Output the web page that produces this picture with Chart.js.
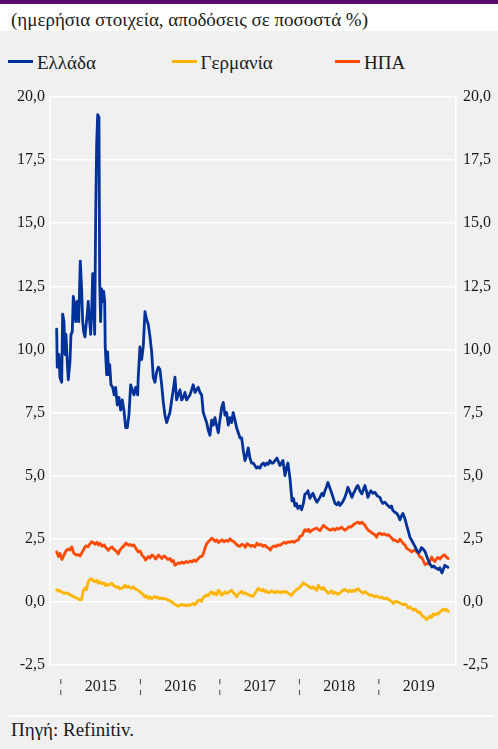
<!DOCTYPE html>
<html lang="el">
<head>
<meta charset="utf-8">
<title>Αποδόσεις 10ετών ομολόγων</title>
<script src="https://cdn.jsdelivr.net/npm/chart.js@4.4.1/dist/chart.umd.min.js"></script>
<style>
    html, body { margin: 0; padding: 0; }
    body {
        width: 498px; height: 749px; position: relative; overflow: hidden;
        background: #f0f0f0; color: #1a1a1a;
        font-family: "Liberation Serif", "Times New Roman", serif;
    }
    .topbar { position: absolute; left: 0; top: 0; width: 498px; height: 4px; background: #5b0b6f; }
    .subtitle {
        position: absolute; left: 0; top: 4px; width: 498px; height: 27px;
        background: #fff; font-size: 19px; line-height: 32px; padding-left: 11px; box-sizing: border-box;
        white-space: nowrap;
    }
    .legend { position: absolute; left: 0; top: 52px; width: 498px; height: 22px; }
    .legend-item { position: absolute; top: 0; height: 22px; display: flex; align-items: center; font-size: 19px; }
    .legend-line { width: 25px; height: 3px; margin-right: 4px; position: relative; top: -2px; }
    .chart-box { position: absolute; left: 0; top: 80px; width: 498px; height: 625px; }
    .rule { position: absolute; left: 9px; top: 715px; width: 484px; height: 2px; background: #fff; }
    .source { position: absolute; left: 11px; top: 720px; font-size: 19px; line-height: 20px; }
</style>
</head>
<body>
<div class="topbar"></div>
<div class="subtitle">(ημερήσια στοιχεία, αποδόσεις σε ποσοστά %)</div>
<div class="legend" id="legend"></div>
<div class="chart-box"><canvas id="yields"></canvas></div>
<div class="rule"></div>
<div class="source">Πηγή: Refinitiv.</div>

<script>
/* -------------------------------------------------------
   Data: 10-year government bond yields, % (x = decimal year)
------------------------------------------------------- */
const seriesNames = ["Ελλάδα", "Γερμανία", "ΗΠΑ"];
const seriesColors = ["#003299", "#ffb400", "#ff4b00"];
const yearLabels = ["2015", "2016", "2017", "2018", "2019"];

const greece = [
    [2014.946,10.8],[2014.953,9.3],[2014.975,9.8],[2014.987,8.9],[2015.009,8.7],[2015.021,11.4],
    [2015.038,11.1],[2015.050,9.8],[2015.063,10.6],[2015.079,9.5],[2015.092,8.8],[2015.113,9.5],
    [2015.126,10.6],[2015.142,10.7],[2015.155,12.1],[2015.167,11.9],[2015.185,11.1],[2015.205,11.9],
    [2015.223,11.1],[2015.243,13.5],[2015.260,12.4],[2015.273,11.1],[2015.286,10.7],[2015.302,10.5],
    [2015.314,10.9],[2015.331,11.4],[2015.343,11.9],[2015.356,11.3],[2015.374,10.6],[2015.386,11.4],
    [2015.399,13.0],[2015.411,12.4],[2015.424,10.6],[2015.437,15.4],[2015.449,18.1],[2015.462,19.3],
    [2015.478,19.2],[2015.487,12.7],[2015.499,11.1],[2015.512,12.4],[2015.525,11.9],[2015.537,12.3],
    [2015.550,11.9],[2015.557,10.1],[2015.575,9.0],[2015.587,9.9],[2015.600,9.0],[2015.613,9.4],
    [2015.629,8.6],[2015.650,8.5],[2015.670,8.2],[2015.688,8.5],[2015.708,7.8],[2015.730,8.1],
    [2015.751,7.6],[2015.771,8.0],[2015.792,7.6],[2015.814,6.9],[2015.834,6.9],[2015.855,7.4],
    [2015.877,8.6],[2015.897,8.4],[2015.918,8.2],[2015.940,8.5],[2015.965,8.2],[2015.972,8.9],
    [2015.994,10.1],[2016.015,9.6],[2016.035,10.1],[2016.057,11.5],[2016.076,11.2],[2016.098,11.0],
    [2016.120,10.5],[2016.141,9.9],[2016.161,8.9],[2016.182,8.7],[2016.203,9.1],[2016.224,9.3],
    [2016.245,9.2],[2016.267,8.6],[2016.288,7.9],[2016.308,7.4],[2016.330,7.1],[2016.350,7.3],
    [2016.371,7.5],[2016.393,8.0],[2016.413,8.4],[2016.434,8.9],[2016.455,8.0],[2016.476,8.2],
    [2016.497,8.4],[2016.518,8.0],[2016.538,8.1],[2016.560,8.3],[2016.580,8.0],[2016.601,8.1],
    [2016.623,8.2],[2016.644,8.4],[2016.664,8.6],[2016.686,8.3],[2016.707,8.4],[2016.727,8.5],
    [2016.748,8.3],[2016.770,8.2],[2016.790,7.5],[2016.812,7.3],[2016.833,7.1],[2016.853,6.8],
    [2016.874,6.6],[2016.896,7.2],[2016.916,7.0],[2016.937,7.3],[2016.958,7.0],[2016.979,6.7],
    [2017.000,7.2],[2017.022,7.7],[2017.042,7.9],[2017.063,7.4],[2017.084,7.5],[2017.105,7.0],
    [2017.126,7.3],[2017.147,7.1],[2017.167,7.5],[2017.189,7.2],[2017.210,6.9],[2017.231,6.7],
    [2017.252,6.5],[2017.273,6.5],[2017.294,6.0],[2017.315,5.6],[2017.336,5.8],[2017.356,6.1],
    [2017.377,5.7],[2017.398,5.5],[2017.419,5.5],[2017.440,5.4],[2017.459,5.3],[2017.480,5.35],
    [2017.503,5.3],[2017.525,5.45],[2017.547,5.5],[2017.567,5.4],[2017.588,5.5],[2017.608,5.45],
    [2017.629,5.6],[2017.650,5.5],[2017.671,5.5],[2017.692,5.6],[2017.717,5.7],[2017.736,5.55],
    [2017.755,5.4],[2017.774,5.5],[2017.793,5.6],[2017.818,5.0],[2017.836,5.3],[2017.855,5.5],
    [2017.881,4.9],[2017.906,4.0],[2017.925,4.1],[2017.944,3.8],[2017.962,3.9],[2017.981,3.7],
    [2018.006,3.8],[2018.028,3.65],[2018.050,3.9],[2018.069,4.27],[2018.091,4.3],[2018.107,4.4],
    [2018.132,4.1],[2018.150,4.2],[2018.170,4.3],[2018.195,4.1],[2018.220,3.95],[2018.240,4.05],
    [2018.258,4.14],[2018.283,4.3],[2018.302,4.2],[2018.321,4.4],[2018.340,4.55],[2018.359,4.73],
    [2018.384,4.5],[2018.409,4.28],[2018.428,4.1],[2018.447,3.9],[2018.472,3.85],[2018.490,3.95],
    [2018.510,3.82],[2018.530,3.9],[2018.550,4.0],[2018.572,4.14],[2018.590,4.3],[2018.610,4.54],
    [2018.635,4.35],[2018.660,4.14],[2018.680,4.3],[2018.698,4.41],[2018.718,4.55],[2018.736,4.61],
    [2018.760,4.4],[2018.786,4.28],[2018.805,4.45],[2018.824,4.61],[2018.843,4.4],[2018.862,4.14],
    [2018.880,4.3],[2018.899,4.4],[2018.925,4.3],[2018.950,4.34],[2018.980,4.2],[2019.013,4.14],
    [2019.030,4.0],[2019.050,3.9],[2019.075,3.95],[2019.101,3.85],[2019.120,3.8],[2019.138,3.74],
    [2019.158,3.8],[2019.176,3.62],[2019.200,3.55],[2019.227,3.5],[2019.245,3.4],[2019.264,3.25],
    [2019.284,3.4],[2019.302,3.5],[2019.327,3.3],[2019.352,3.0],[2019.370,2.8],[2019.390,2.56],
    [2019.410,2.45],[2019.428,2.35],[2019.453,2.2],[2019.478,2.04],[2019.497,1.95],[2019.516,2.0],
    [2019.535,2.15],[2019.554,2.1],[2019.579,2.0],[2019.598,1.85],[2019.617,1.68],[2019.642,1.5],
    [2019.667,1.38],[2019.690,1.42],[2019.710,1.35],[2019.730,1.33],[2019.750,1.28],[2019.767,1.35],
    [2019.793,1.15],[2019.812,1.3],[2019.830,1.45],[2019.850,1.4],[2019.868,1.37]
];

const germany = [
    [2014.946,0.48],[2014.969,0.42],[2014.987,0.45],[2015.013,0.38],[2015.038,0.34],[2015.063,0.36],
    [2015.092,0.33],[2015.113,0.28],[2015.138,0.25],[2015.164,0.20],[2015.195,0.16],[2015.218,0.12],
    [2015.239,0.08],[2015.260,0.10],[2015.281,0.45],[2015.302,0.55],[2015.321,0.48],[2015.340,0.78],
    [2015.356,0.86],[2015.386,0.92],[2015.409,0.82],[2015.428,0.80],[2015.453,0.86],[2015.469,0.74],
    [2015.491,0.80],[2015.516,0.72],[2015.541,0.76],[2015.560,0.64],[2015.579,0.70],[2015.604,0.66],
    [2015.638,0.74],[2015.660,0.66],[2015.679,0.62],[2015.704,0.56],[2015.721,0.60],[2015.742,0.52],
    [2015.764,0.54],[2015.784,0.58],[2015.805,0.66],[2015.826,0.58],[2015.847,0.62],[2015.868,0.56],
    [2015.889,0.54],[2015.909,0.60],[2015.931,0.52],[2015.952,0.48],[2015.972,0.46],[2015.994,0.40],
    [2016.015,0.33],[2016.035,0.30],[2016.057,0.18],[2016.078,0.24],[2016.098,0.14],[2016.120,0.20],
    [2016.141,0.12],[2016.161,0.18],[2016.182,0.22],[2016.204,0.15],[2016.224,0.18],[2016.245,0.12],
    [2016.267,0.16],[2016.287,0.12],[2016.308,0.14],[2016.330,0.10],[2016.350,0.07],[2016.371,0.04],
    [2016.393,0.00],[2016.413,-0.05],[2016.434,-0.10],[2016.455,-0.14],[2016.476,-0.18],[2016.497,-0.12],
    [2016.518,-0.10],[2016.538,-0.14],[2016.560,-0.12],[2016.581,-0.16],[2016.601,-0.12],[2016.623,-0.14],
    [2016.644,-0.10],[2016.664,-0.06],[2016.686,-0.12],[2016.707,-0.02],[2016.727,0.06],[2016.748,0.08],
    [2016.770,0.02],[2016.790,0.18],[2016.811,0.22],[2016.833,0.28],[2016.853,0.24],[2016.874,0.34],
    [2016.896,0.40],[2016.916,0.30],[2016.937,0.36],[2016.959,0.28],[2016.979,0.46],[2017.000,0.40],
    [2017.022,0.26],[2017.042,0.32],[2017.063,0.40],[2017.084,0.33],[2017.105,0.36],[2017.126,0.42],
    [2017.147,0.46],[2017.167,0.38],[2017.189,0.30],[2017.210,0.20],[2017.230,0.30],[2017.252,0.36],
    [2017.273,0.42],[2017.293,0.34],[2017.315,0.36],[2017.336,0.32],[2017.356,0.28],[2017.377,0.26],
    [2017.399,0.24],[2017.419,0.22],[2017.440,0.34],[2017.462,0.44],[2017.482,0.54],[2017.503,0.48],
    [2017.525,0.44],[2017.545,0.50],[2017.566,0.40],[2017.588,0.44],[2017.608,0.36],[2017.629,0.38],
    [2017.650,0.44],[2017.671,0.40],[2017.692,0.36],[2017.713,0.42],[2017.733,0.38],[2017.755,0.40],
    [2017.776,0.36],[2017.796,0.42],[2017.818,0.38],[2017.839,0.40],[2017.859,0.34],[2017.881,0.30],
    [2017.902,0.26],[2017.922,0.36],[2017.944,0.42],[2017.965,0.50],[2017.985,0.52],[2018.006,0.58],
    [2018.028,0.66],[2018.048,0.76],[2018.069,0.70],[2018.091,0.68],[2018.111,0.62],[2018.132,0.58],
    [2018.154,0.54],[2018.174,0.60],[2018.195,0.52],[2018.216,0.46],[2018.237,0.66],[2018.258,0.56],
    [2018.279,0.50],[2018.299,0.58],[2018.321,0.48],[2018.342,0.42],[2018.362,0.34],[2018.384,0.38],
    [2018.405,0.44],[2018.425,0.33],[2018.447,0.38],[2018.468,0.34],[2018.488,0.30],[2018.510,0.36],
    [2018.531,0.42],[2018.551,0.46],[2018.572,0.50],[2018.594,0.44],[2018.614,0.40],[2018.635,0.46],
    [2018.657,0.40],[2018.677,0.46],[2018.698,0.42],[2018.720,0.50],[2018.740,0.52],[2018.761,0.44],
    [2018.783,0.38],[2018.803,0.34],[2018.824,0.40],[2018.845,0.36],[2018.866,0.30],[2018.887,0.26],
    [2018.908,0.28],[2018.928,0.24],[2018.950,0.20],[2018.971,0.24],[2018.991,0.20],[2019.013,0.16],
    [2019.034,0.20],[2019.054,0.14],[2019.076,0.12],[2019.097,0.16],[2019.117,0.10],[2019.138,0.07],
    [2019.160,0.02],[2019.180,-0.06],[2019.201,0.00],[2019.223,0.02],[2019.243,-0.02],[2019.264,-0.04],
    [2019.286,-0.08],[2019.306,-0.12],[2019.327,-0.08],[2019.349,-0.14],[2019.369,-0.24],[2019.390,-0.20],
    [2019.412,-0.26],[2019.432,-0.32],[2019.453,-0.28],[2019.474,-0.34],[2019.495,-0.42],[2019.516,-0.40],
    [2019.537,-0.52],[2019.557,-0.58],[2019.579,-0.62],[2019.600,-0.70],[2019.620,-0.64],[2019.642,-0.56],
    [2019.663,-0.62],[2019.683,-0.48],[2019.705,-0.52],[2019.726,-0.46],[2019.746,-0.48],[2019.767,-0.40],
    [2019.789,-0.34],[2019.809,-0.28],[2019.830,-0.34],[2019.852,-0.30],[2019.872,-0.38]
];

const usa = [
    [2014.946,1.98],[2014.969,1.80],[2014.987,1.92],[2015.013,1.68],[2015.038,1.85],[2015.063,2.02],
    [2015.092,2.10],[2015.113,2.05],[2015.135,2.18],[2015.164,1.92],[2015.195,1.85],[2015.218,1.88],
    [2015.239,1.82],[2015.264,1.95],[2015.289,2.10],[2015.314,2.22],[2015.340,2.18],[2015.365,2.30],
    [2015.386,2.38],[2015.409,2.34],[2015.428,2.28],[2015.453,2.36],[2015.472,2.25],[2015.491,2.32],
    [2015.516,2.20],[2015.541,2.26],[2015.566,2.15],[2015.595,2.04],[2015.616,2.12],[2015.642,2.18],
    [2015.667,2.08],[2015.692,2.02],[2015.721,1.90],[2015.742,2.05],[2015.767,2.15],[2015.792,2.22],
    [2015.818,2.33],[2015.847,2.24],[2015.868,2.28],[2015.893,2.22],[2015.918,2.26],[2015.943,2.12],
    [2015.972,1.98],[2015.994,2.02],[2016.019,1.85],[2016.044,1.78],[2016.063,1.66],[2016.082,1.72],
    [2016.101,1.80],[2016.120,1.74],[2016.145,1.86],[2016.170,1.80],[2016.189,1.70],[2016.208,1.76],
    [2016.226,1.86],[2016.252,1.78],[2016.270,1.72],[2016.296,1.82],[2016.321,1.76],[2016.346,1.68],
    [2016.371,1.72],[2016.393,1.60],[2016.415,1.64],[2016.434,1.45],[2016.459,1.50],[2016.478,1.55],
    [2016.497,1.52],[2016.522,1.58],[2016.547,1.53],[2016.572,1.60],[2016.598,1.56],[2016.623,1.62],
    [2016.648,1.58],[2016.673,1.66],[2016.698,1.60],[2016.723,1.70],[2016.748,1.78],[2016.774,1.80],
    [2016.793,1.92],[2016.811,2.12],[2016.833,2.30],[2016.853,2.38],[2016.874,2.44],[2016.896,2.52],
    [2016.916,2.48],[2016.937,2.40],[2016.962,2.45],[2016.981,2.35],[2017.000,2.40],[2017.025,2.46],
    [2017.050,2.38],[2017.076,2.44],[2017.101,2.40],[2017.126,2.50],[2017.151,2.42],[2017.176,2.38],
    [2017.201,2.30],[2017.230,2.22],[2017.252,2.20],[2017.277,2.28],[2017.302,2.24],[2017.321,2.16],
    [2017.340,2.30],[2017.365,2.26],[2017.390,2.20],[2017.415,2.24],[2017.440,2.18],[2017.465,2.32],
    [2017.491,2.25],[2017.516,2.28],[2017.541,2.20],[2017.566,2.24],[2017.591,2.16],[2017.616,2.12],
    [2017.635,2.05],[2017.654,2.16],[2017.679,2.22],[2017.705,2.18],[2017.730,2.26],[2017.755,2.24],
    [2017.780,2.30],[2017.805,2.36],[2017.830,2.32],[2017.855,2.38],[2017.881,2.36],[2017.906,2.40],
    [2017.931,2.36],[2017.965,2.44],[2017.988,2.46],[2018.006,2.60],[2018.032,2.62],[2018.050,2.75],
    [2018.069,2.86],[2018.094,2.80],[2018.113,2.88],[2018.132,2.77],[2018.157,2.84],[2018.183,2.88],
    [2018.216,2.92],[2018.239,2.86],[2018.258,2.82],[2018.283,2.94],[2018.302,3.03],[2018.321,2.98],
    [2018.346,2.92],[2018.371,2.86],[2018.396,2.84],[2018.422,2.90],[2018.447,2.84],[2018.472,2.92],
    [2018.497,2.88],[2018.531,2.96],[2018.554,2.88],[2018.572,2.84],[2018.598,2.90],[2018.623,2.98],
    [2018.648,2.96],[2018.673,3.04],[2018.698,3.10],[2018.723,3.14],[2018.740,3.16],[2018.761,3.10],
    [2018.786,3.16],[2018.803,3.10],[2018.824,3.04],[2018.845,2.92],[2018.866,2.84],[2018.887,2.80],
    [2018.908,2.74],[2018.928,2.70],[2018.950,2.66],[2018.971,2.56],[2018.991,2.70],[2019.013,2.72],
    [2019.038,2.66],[2019.063,2.70],[2019.097,2.64],[2019.120,2.66],[2019.138,2.60],[2019.164,2.52],
    [2019.180,2.44],[2019.201,2.46],[2019.223,2.40],[2019.243,2.38],[2019.264,2.48],[2019.286,2.40],
    [2019.306,2.31],[2019.327,2.26],[2019.349,2.12],[2019.369,2.08],[2019.390,2.04],[2019.412,1.98],
    [2019.432,2.02],[2019.453,2.06],[2019.474,1.98],[2019.495,1.92],[2019.516,1.78],[2019.537,1.76],
    [2019.557,1.64],[2019.579,1.48],[2019.600,1.52],[2019.620,1.50],[2019.642,1.62],[2019.663,1.78],
    [2019.683,1.66],[2019.705,1.60],[2019.726,1.72],[2019.746,1.76],[2019.767,1.70],[2019.789,1.78],
    [2019.809,1.84],[2019.830,1.86],[2019.852,1.76],[2019.872,1.72]
];

const seriesData = [greece, germany, usa];

/* -------------------------------------------------------
   Helpers
------------------------------------------------------- */
const FONT = "'Liberation Serif', 'Times New Roman', serif";
const TEXT = "#1a1a1a";

function commaDecimal(v) {
    return Number(v).toFixed(1).replace(".", ",");
}

// year separators on the whole year, year label in the middle of it
const xTickValues = [];
yearLabels.forEach(y => {
    xTickValues.push({ value: Number(y), label: "\u00A6" });
    xTickValues.push({ value: Number(y) + 0.5, label: y });
});

/* -------------------------------------------------------
   Legend (fixed columns)
------------------------------------------------------- */
const legendEl = document.getElementById("legend");
seriesNames.forEach((name, i) => {
    const item = document.createElement("div");
    item.className = "legend-item";
    item.style.left = (8 + i * 163.5) + "px";
    const swatch = document.createElement("span");
    swatch.className = "legend-line";
    swatch.style.background = seriesColors[i];
    const label = document.createElement("span");
    label.textContent = name;
    item.appendChild(swatch);
    item.appendChild(label);
    legendEl.appendChild(item);
});

/* -------------------------------------------------------
   Chart
------------------------------------------------------- */
const datasets = seriesNames.map((name, i) => ({
    label: name,
    data: seriesData[i].map(p => ({ x: p[0], y: p[1] })),
    borderColor: seriesColors[i],
    backgroundColor: seriesColors[i],
    borderWidth: 2.8,
    borderJoinStyle: "round",
    borderCapStyle: "round",
    pointRadius: 0,
    tension: 0,
    fill: false
}));

const yTicks = {
    stepSize: 2.5,
    padding: 5,
    color: TEXT,
    font: { family: FONT, size: 16 },
    callback: v => commaDecimal(v)
};

new Chart(document.getElementById("yields"), {
    type: "line",
    data: { datasets },
    options: {
        responsive: true,
        maintainAspectRatio: false,
        animation: false,
        layout: { padding: { top: 17, left: 0, right: 0, bottom: 0 } },
        plugins: {
            legend: { display: false },
            tooltip: { enabled: false }
        },
        scales: {
            x: {
                type: "linear",
                min: 2014.862,
                max: 2019.97,
                afterBuildTicks: scale => {
                    scale.ticks = xTickValues.map(t => ({ value: t.value }));
                },
                afterFit: scale => { scale.height = 40; },
                ticks: {
                    autoSkip: false,
                    maxRotation: 0,
                    padding: 12,
                    color: TEXT,
                    font: { family: FONT, size: 16 },
                    callback: (v, i) => xTickValues[i] ? xTickValues[i].label : ""
                },
                grid: { display: false, drawTicks: false },
                border: { display: false }
            },
            y: {
                position: "left",
                min: -2.5,
                max: 20,
                afterFit: scale => { scale.width = 50; },
                ticks: yTicks,
                grid: { color: "#ffffff", lineWidth: 1.5, drawTicks: false },
                border: { color: "#ffffff", width: 1.5 }
            },
            y2: {
                position: "right",
                min: -2.5,
                max: 20,
                afterFit: scale => { scale.width = 42; },
                ticks: { ...yTicks, padding: 7 },
                grid: { drawOnChartArea: false, drawTicks: false },
                border: { color: "#ffffff", width: 1.5 }
            }
        }
    }
});
</script>
</body>
</html>
